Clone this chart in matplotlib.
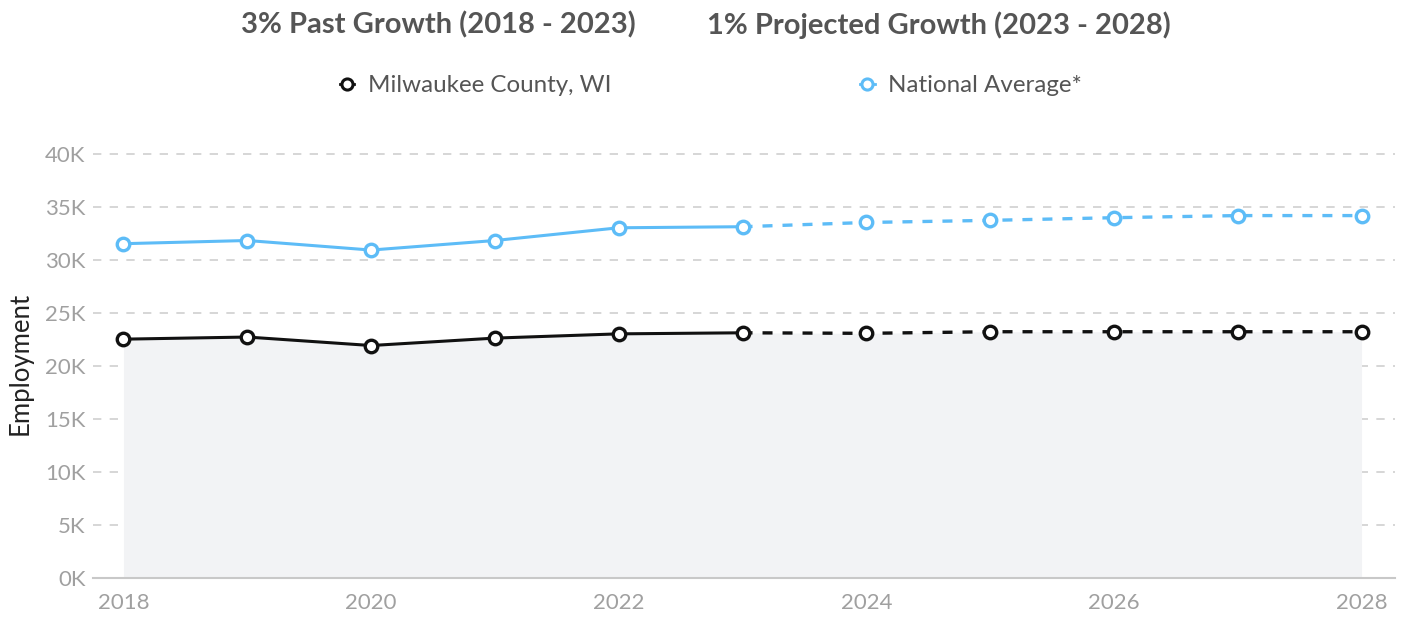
import matplotlib
matplotlib.use("Agg")
import matplotlib.pyplot as plt
from matplotlib.lines import Line2D

plt.rcParams['font.family'] = ['Lato', 'DejaVu Sans']

years = [2018, 2019, 2020, 2021, 2022, 2023, 2024, 2025, 2026, 2027, 2028]
milwaukee = [22500, 22700, 21900, 22600, 23000, 23100, 23050, 23200, 23200, 23200, 23200]
national = [31500, 31800, 30900, 31800, 33000, 33100, 33500, 33700, 33950, 34150, 34150]
split = 5  # index of 2023, where projection starts

y_ticks = [0, 5000, 10000, 15000, 20000, 25000, 30000, 35000, 40000]
y_tick_labels = ['0K', '5K', '10K', '15K', '20K', '25K', '30K', '35K', '40K']
x_ticks = [2018, 2020, 2022, 2024, 2026, 2028]

black = '#111111'
blue = '#5dbcf7'
grey_txt = '#a0a0a0'

fig = plt.figure(figsize=(14.02, 6.22), dpi=100)
ax = fig.add_axes([0.066, 0.071, 0.929, 0.689])

ax.fill_between(years, 0, milwaukee, color='#f2f3f5', zorder=1, linewidth=0)

for vals, col in [(milwaukee, black), (national, blue)]:
    ax.plot(years[:split + 1], vals[:split + 1], color=col, lw=2.2, zorder=3)
    ax.plot(years[split:], vals[split:], color=col, lw=2.4, ls=(0, (3, 3)), zorder=3)
    ax.plot(years, vals, ls='none', marker='o', ms=9, mfc='white', mec=col, mew=2.4, zorder=4)

ax.set_xlim(2017.75, 2028.27)
ax.set_ylim(0, 40400)
ax.set_yticks(y_ticks)
ax.set_yticklabels(y_tick_labels)
ax.set_xticks(x_ticks)
ax.grid(axis='y', color='#cfcfcf', ls=(0, (5, 5)), lw=1.2, zorder=0)
ax.set_axisbelow(True)

for s in ['top', 'right', 'left']:
    ax.spines[s].set_visible(False)
ax.spines['bottom'].set_color('#c8c8c8')
ax.spines['bottom'].set_linewidth(1.5)

ax.tick_params(axis='y', length=0, pad=5, labelsize=16, labelcolor=grey_txt)
ax.tick_params(axis='x', length=0, pad=11, labelsize=16, labelcolor=grey_txt)
ax.set_ylabel('Employment', fontsize=18.5, color='#222222', labelpad=9)

fig.text(0.3126, 0.96, '3% Past Growth (2018 - 2023)', ha='center', va='center',
         fontsize=21, fontweight='bold', color='#555555')
fig.text(0.670, 0.96, '1% Projected Growth (2023 - 2028)', ha='center', va='center',
         fontsize=21, fontweight='bold', color='#555555')

handles = [
    Line2D([], [], color=black, lw=2, marker='o', ms=8, mfc='white', mec=black, mew=2.2),
    Line2D([], [], color=blue, lw=2, marker='o', ms=8, mfc='white', mec=blue, mew=2.2),
]
leg = fig.legend(handles, ['Milwaukee County, WI', 'National Average*'], loc='center',
                 bbox_to_anchor=(0.507, 0.862), ncol=2, frameon=False, fontsize=17.4,
                 handlelength=0.6, handletextpad=0.55, columnspacing=10.3)
for t in leg.get_texts():
    t.set_color('#555555')

fig.savefig('out.png', dpi=100)
